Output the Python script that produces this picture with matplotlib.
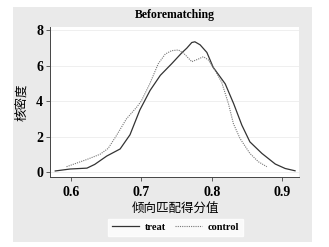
import matplotlib
matplotlib.use("Agg")
import matplotlib.pyplot as plt
from matplotlib.patches import Rectangle

treat_x = [0.578, 0.599, 0.623, 0.634, 0.651, 0.670, 0.684, 0.698, 0.7125, 0.727, 0.743, 0.757,
           0.7645, 0.7716, 0.776, 0.7834, 0.793, 0.802, 0.819, 0.831, 0.8426, 0.854, 0.871, 0.890,
           0.904, 0.918]
treat_y = [0.06, 0.17, 0.22, 0.43, 0.9, 1.3, 2.1, 3.5, 4.6, 5.45, 6.1, 6.7,
           6.98, 7.3, 7.34, 7.17, 6.74, 5.9, 4.97, 3.85, 2.64, 1.7, 1.05, 0.45,
           0.2, 0.07]
control_x = [0.594, 0.623, 0.6415, 0.653, 0.665, 0.679, 0.6936, 0.700, 0.712, 0.724, 0.734, 0.743,
             0.7526, 0.760, 0.7716, 0.781, 0.788, 0.795, 0.8047, 0.814, 0.8236, 0.8306, 0.840,
             0.854, 0.866, 0.878]
control_y = [0.3, 0.71, 1.0, 1.33, 2.07, 3.0, 3.66, 4.0, 4.97, 6.1, 6.65, 6.84,
             6.88, 6.7, 6.22, 6.37, 6.5, 6.32, 5.72, 5.06, 3.85, 2.73, 1.89,
             1.05, 0.58, 0.3]
xticks = [0.6, 0.7, 0.8, 0.9]
yticks = [0, 2, 4, 6, 8]
title = "Beforematching"
xlabel = "倾向匹配得分值"
ylabel = "核密度"
labels = ["treat", "control"]

fig = plt.figure(figsize=(3.29, 2.47), dpi=100)
fig.patch.set_facecolor("white")
fig.patches.append(Rectangle((0.0395, 0.0202), 0.9085, 0.9515, transform=fig.transFigure,
                             facecolor="#eaeaea", edgecolor="none", zorder=-10))

ax = fig.add_axes([0.152, 0.2834, 0.757, 0.607])
ax.set_facecolor("white")
ax.plot(treat_x, treat_y, color="#333333", lw=0.9, label=labels[0])
ax.plot(control_x, control_y, color="#777777", lw=0.8, ls=(0, (1, 1)), label=labels[1])
ax.set_xlim(0.5706, 0.9237)
ax.set_ylim(-0.28, 8.17)
ax.set_xticks(xticks)
ax.set_yticks(yticks)
ax.set_xticklabels([f"{v:.1f}" for v in xticks], fontfamily="Liberation Serif", fontweight="bold", fontsize=10)
ax.set_yticklabels([str(v) for v in yticks], fontfamily="Liberation Serif", fontweight="bold", fontsize=10)
ax.grid(axis="y", color="#ececec", lw=0.6)
ax.set_axisbelow(True)
for s in ["top", "right"]:
    ax.spines[s].set_visible(False)
for s in ["left", "bottom"]:
    ax.spines[s].set_color("#444444")
    ax.spines[s].set_linewidth(0.7)
ax.tick_params(axis="x", direction="out", length=3, width=0.6, color="#444444", pad=3.5)
ax.tick_params(axis="y", direction="out", length=3, width=0.6, color="#444444", pad=2)

fig.text(0.533, 0.94, title, ha="center", va="center", fontfamily="Liberation Serif",
         fontweight="bold", fontsize=8.5)
fig.text(0.533, 0.158, xlabel, ha="center", va="center", fontfamily="Noto Sans CJK SC", fontsize=9)
fig.text(0.067, 0.587, ylabel, ha="center", va="center", rotation=90,
         fontfamily="Noto Sans CJK SC", fontsize=9)

leg = fig.legend(loc="center", bbox_to_anchor=(0.533, 0.079), ncol=2, frameon=True,
                 prop={"family": "Liberation Serif", "weight": "bold", "size": 7.5},
                 handlelength=2.6, columnspacing=0.9, handletextpad=0.5, borderpad=0.4)
leg.get_frame().set_facecolor("white")
leg.get_frame().set_edgecolor("white")
leg.get_frame().set_boxstyle("square", pad=0)

fig.savefig("out.png", dpi=100, facecolor="white")
